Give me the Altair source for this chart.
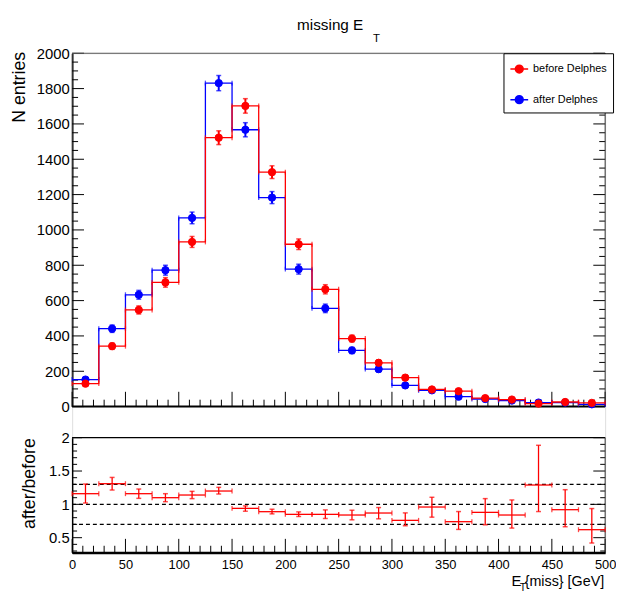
import altair as alt
import pandas as pd

# ---------------- data ----------------
bin_lo = [0, 25, 50, 75, 100, 125, 150, 175, 200, 225,
          250, 275, 300, 325, 350, 375, 400, 425, 450, 475]
bin_width = 25
sample_names = ["before Delphes", "after Delphes"]
before_vals = [130, 342, 547, 703, 932, 1522, 1702, 1327, 919, 664,
               385, 248, 164, 97, 87, 48, 40, 17, 26, 21]
after_vals = [153, 441, 633, 772, 1068, 1831, 1567, 1183, 778, 556,
              318, 212, 120, 92, 56, 43, 34, 23, 23, 13]
before_err = [11, 18, 23, 27, 31, 39, 41, 36, 30, 26,
              20, 16, 13, 10, 9, 7, 6, 4, 5, 5]
after_err = [12, 21, 25, 28, 33, 43, 40, 34, 28, 24,
             18, 15, 11, 10, 7, 7, 6, 5, 5, 4]
ratio_vals = [1.16, 1.31, 1.16, 1.10, 1.14, 1.20, 0.94, 0.89, 0.85, 0.85,
              0.84, 0.87, 0.76, 0.96, 0.74, 0.88, 0.84, 1.29, 0.92, 0.62]
ratio_lo = [1.02, 1.215, 1.09, 1.04, 1.086, 1.155, 0.897, 0.857, 0.818, 0.788,
            0.768, 0.783, 0.679, 0.808, 0.624, 0.693, 0.644, 0.892, 0.664, 0.42]
ratio_hi = [1.305, 1.404, 1.23, 1.16, 1.195, 1.255, 0.977, 0.927, 0.887, 0.917,
            0.912, 0.952, 0.872, 1.106, 0.892, 1.086, 1.066, 1.886, 1.22, 0.937]
ratio_ref = [0.7, 1.0, 1.3]
x_range = [0, 500]
top_y_range = [0, 2000]
ratio_y_range = [0.275, 2]
x_ticks = [0, 50, 100, 150, 200, 250, 300, 350, 400, 450, 500]
top_y_ticks = [0, 200, 400, 600, 800, 1000, 1200, 1400, 1600, 1800, 2000]
ratio_y_ticks = [0.5, 1, 1.5, 2]

# ---------------- geometry / styling ----------------
W = 540            # plot width
H_TOP = 358        # upper pad height
GAP = 31.5         # gap between the pads
H_RAT = 116.5      # ratio pad height
H = H_TOP + GAP + H_RAT
R_TOP = H_TOP + GAP
RED, BLUE = "#ff0000", "#0000ff"
SANS = "Liberation Sans, Arial, Helvetica"

xs = alt.Scale(domain=x_range, nice=False, zero=False)
ys_top = alt.Scale(domain=top_y_range, range=[H_TOP, 0], nice=False, zero=False)
ys_rat = alt.Scale(domain=ratio_y_range, range=[H, R_TOP], nice=False, zero=False)

x_minor = [v for v in range(0, 501, 10) if v % 50]
top_y_minor = [v for v in range(0, 2001, 50) if v % 200]
rat_y_minor = [round(0.3 + 0.1 * i, 1) for i in range(18)]
rat_y_minor = [v for v in rat_y_minor if v not in (0.5, 1.0, 1.5, 2.0)]

xaxis = alt.Axis(values=x_ticks, ticks=False, grid=False, domain=True,
                 domainColor="black", domainWidth=2, format="d", orient="bottom",
                 labelFont=SANS, labelFontSize=13, labelPadding=6, labelColor="black",
                 labelFlush=False, labelOverlap=False, title=None)
top_yaxis = alt.Axis(values=top_y_ticks, ticks=False, grid=False, domain=True,
                     domainColor="#333333", domainWidth=2, orient="left",
                     labelFont=SANS, labelFontSize=15, labelPadding=3, labelColor="black",
                     labelFlush=False, labelOverlap=False, format="d",
                     title="N entries", titleFont=SANS, titleFontSize=18,
                     titleFontWeight="normal", titleColor="black",
                     titleX=-48, titleY=-2, titleAlign="right", titleAngle=270,
                     titleBaseline="alphabetic")
rat_yaxis = alt.Axis(values=ratio_y_ticks, ticks=False, grid=False, domain=True,
                     domainColor="black", domainWidth=1.5, orient="left",
                     labelFont=SANS, labelFontSize=15, labelPadding=3, labelColor="black",
                     labelFlush=False, labelOverlap=False, format="~g",
                     title="after/before", titleFont=SANS, titleFontSize=18,
                     titleFontWeight="normal", titleColor="black",
                     titleX=-38, titleY=R_TOP, titleAlign="right", titleAngle=270,
                     titleBaseline="alphabetic")


def X(field):
    return alt.X(field, scale=xs, axis=xaxis)


def panel_frame(ysc, yax, yr, y_major, y_minor, bottom_px, ymaj, ymin, rmaj, rmin,
                xmaj, xmin, top_w, top_col):
    Y = lambda f: alt.Y(f, scale=ysc, axis=yax)
    layers = []
    dmaj = pd.DataFrame({"v": y_major})
    dmin = pd.DataFrame({"v": y_minor})
    for d, x0, x1 in [(dmaj, 0, ymaj), (dmin, 0, ymin),
                      (dmaj, W - rmaj, W), (dmin, W - rmin, W)]:
        layers.append(alt.Chart(d).mark_rule(color="black", strokeWidth=1).encode(
            y=Y("v:Q"), x=alt.value(x0), x2=alt.value(x1)))
    for vals, ln in [(x_ticks, xmaj), (x_minor, xmin)]:
        layers.append(alt.Chart(pd.DataFrame({"v": vals})).mark_rule(
            color="black", strokeWidth=1).encode(
            x=X("v:Q"), y=alt.value(bottom_px), y2=alt.value(bottom_px - ln)))
    # frame: top edge, right edge, bottom edge
    layers.append(alt.Chart(pd.DataFrame({"a": [x_range[0]], "b": [x_range[1]],
                                          "y": [yr[1]]})).mark_rule(
        color=top_col, strokeWidth=top_w).encode(x=X("a:Q"), x2="b:Q", y=Y("y:Q")))
    layers.append(alt.Chart(pd.DataFrame({"x": [x_range[1]], "a": [yr[0]],
                                          "b": [yr[1]]})).mark_rule(
        color="#333333", strokeWidth=1).encode(x=X("x:Q"), y=Y("a:Q"), y2="b:Q"))
    layers.append(alt.Chart(pd.DataFrame({"a": [x_range[0]], "b": [x_range[1]],
                                          "y": [yr[0]]})).mark_rule(
        color="black", strokeWidth=2).encode(x=X("a:Q"), x2="b:Q", y=Y("y:Q")))
    return layers


def label(txt, col, x, y, size, align):
    return alt.Chart(pd.DataFrame({col: [txt]})).mark_text(
        align=align, baseline="alphabetic", font=SANS, fontSize=size,
        color="black", fill="black").encode(
        text=alt.Text(f"{col}:N"), x=alt.value(x), y=alt.value(y))


# ---------------- upper pad ----------------
TY = lambda f: alt.Y(f, scale=ys_top, axis=top_yaxis)
top_layers = panel_frame(ys_top, top_yaxis, top_y_range, top_y_ticks, top_y_minor, H_TOP,
                         12, 6, 12, 6, 15, 7, 1, "#555555")

series = [("after Delphes", after_vals, after_err, BLUE),
          ("before Delphes", before_vals, before_err, RED)]

for name, vals, errs, col in series:
    step = pd.DataFrame({"edge": bin_lo + [bin_lo[-1] + bin_width],
                         "val": vals + [vals[-1]]})
    top_layers.append(alt.Chart(step).mark_line(
        interpolate="step-after", color=col, strokeWidth=1.3).encode(
        x=X("edge:Q"), y=TY("val:Q")))
    caps = pd.DataFrame({"edge": bin_lo + [b + bin_width for b in bin_lo],
                         "val": vals + vals})
    top_layers.append(alt.Chart(caps).mark_tick(
        orient="vertical", size=5, thickness=1.3, color=col).encode(
        x=X("edge:Q"), y=TY("val:Q")))
    eb = pd.DataFrame({"mid": [b + bin_width / 2 for b in bin_lo],
                       "lo": [v - e for v, e in zip(vals, errs)],
                       "hi": [v + e for v, e in zip(vals, errs)]})
    top_layers.append(alt.Chart(eb).mark_rule(color=col, strokeWidth=2).encode(
        x=X("mid:Q"), y=TY("lo:Q"), y2="hi:Q"))
    ecap = pd.DataFrame({"mid": [b + bin_width / 2 for b in bin_lo] * 2,
                         "v": list(eb["lo"]) + list(eb["hi"])})
    top_layers.append(alt.Chart(ecap).mark_tick(
        orient="horizontal", size=5, thickness=1.5, color=col).encode(
        x=X("mid:Q"), y=TY("v:Q")))

pts = pd.DataFrame({
    "mid": [b + bin_width / 2 for b in bin_lo] * 2,
    "val": after_vals + before_vals,
    "sample": ["after Delphes"] * len(bin_lo) + ["before Delphes"] * len(bin_lo),
})
LEGEND_PATH = ("M-1,0L1,0M0.44,0A0.44,0.44,0,1,1,-0.44,0"
               "A0.44,0.44,0,1,1,0.44,0Z")
leg = alt.Legend(title=None, orient="none", legendX=437, legendY=0, padding=6,
                 rowPadding=14, strokeColor="black", fillColor="white", cornerRadius=0,
                 symbolType=LEGEND_PATH, symbolSize=324, symbolStrokeWidth=1.5,
                 labelFont=SANS, labelFontSize=11, labelOffset=4, labelColor="black",
                 labelLimit=200)
cscale = alt.Scale(domain=sample_names, range=[RED, BLUE])
top_layers.append(alt.Chart(pts).mark_point(filled=True, size=55, opacity=1,
                                            strokeWidth=1, shape="circle").encode(
    x=X("mid:Q"),
    y=TY("val:Q"),
    fill=alt.Fill("sample:N", scale=cscale, legend=leg),
    stroke=alt.Stroke("sample:N", scale=cscale, legend=leg),
    order=alt.Order("sample:N", sort="ascending"),
))

top_layers.append(label("missing E", "title_main", 295, -23.3, 15.5, "right"))
top_layers.append(label("T", "title_sub", 304.7, -11.7, 11.5, "left"))

top = alt.layer(*top_layers)

# ---------------- ratio pad ----------------
RY = lambda f: alt.Y(f, scale=ys_rat, axis=rat_yaxis)
rat_layers = panel_frame(ys_rat, rat_yaxis, ratio_y_range, ratio_y_ticks, rat_y_minor, H,
                         10, 5, 12, 5, 14, 7, 1.2, "black")

refdf = pd.DataFrame({"v": ratio_ref})
rat_layers.append(alt.Chart(refdf).mark_rule(color="black", strokeWidth=1.2,
                                             strokeDash=[4, 3]).encode(
    y=RY("v:Q"), x=alt.value(0), x2=alt.value(W)))

rdf = pd.DataFrame({"lo_x": bin_lo, "hi_x": [b + bin_width for b in bin_lo],
                    "mid": [b + bin_width / 2 for b in bin_lo],
                    "val": ratio_vals, "lo": ratio_lo, "hi": ratio_hi})
rat_layers.append(alt.Chart(rdf).mark_rule(color=RED, strokeWidth=1.3).encode(
    x=X("lo_x:Q"), x2="hi_x:Q", y=RY("val:Q")))
rcaps = pd.DataFrame({"edge": bin_lo + [b + bin_width for b in bin_lo],
                      "val": ratio_vals + ratio_vals})
rat_layers.append(alt.Chart(rcaps).mark_tick(orient="vertical", size=5, thickness=1.3,
                                             color=RED).encode(
    x=X("edge:Q"), y=RY("val:Q")))
rat_layers.append(alt.Chart(rdf).mark_rule(color=RED, strokeWidth=1.3).encode(
    x=X("mid:Q"), y=RY("lo:Q"), y2="hi:Q"))
recaps = pd.DataFrame({"mid": [b + bin_width / 2 for b in bin_lo] * 2,
                       "v": ratio_lo + ratio_hi})
rat_layers.append(alt.Chart(recaps).mark_tick(orient="horizontal", size=5, thickness=1.5,
                                              color=RED).encode(
    x=X("mid:Q"), y=RY("v:Q")))

rat_layers.append(label("E", "xt_e", 445, H + 34, 15, "left"))
rat_layers.append(label("T", "xt_t", 453.5, H + 38.5, 10.5, "left"))
rat_layers.append(label("{miss} [GeV]", "xt_rest", 539, H + 34, 14.5, "right"))

ratio = alt.layer(*rat_layers)

chart = alt.layer(top, ratio).resolve_scale(y="independent").properties(
    width=W, height=H,
    autosize=alt.AutoSizeParams(type="none"),
    padding={"left": 65, "top": 42, "right": 11, "bottom": 37},
).configure_view(stroke="transparent").configure(background="white")

chart.save("out.html", embed_options={"renderer": "svg", "actions": False})
